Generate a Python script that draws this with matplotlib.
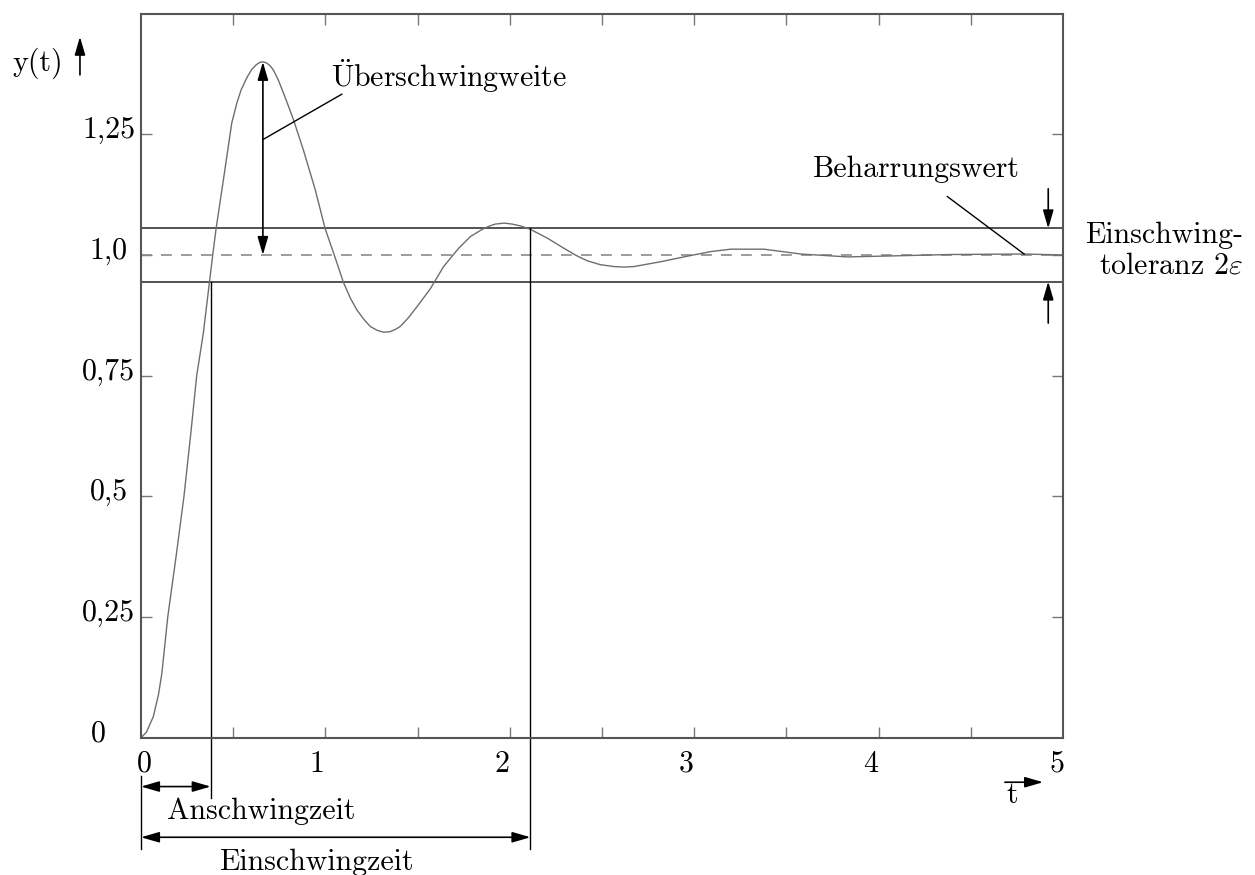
import numpy as np
import matplotlib
matplotlib.use('Agg')
import matplotlib.pyplot as plt

plt.rcParams['font.family'] = ['cmr10', 'DejaVu Serif']
plt.rcParams['mathtext.fontset'] = 'cm'
plt.rcParams['axes.formatter.use_mathtext'] = True

# digitised step response y(t)
t = [0, 0.03, 0.067, 0.095, 0.113, 0.145, 0.19, 0.233, 0.27, 0.302, 0.338,
     0.371, 0.389, 0.407, 0.425, 0.452, 0.492, 0.52, 0.543, 0.575, 0.60,
     0.625, 0.645, 0.661, 0.68, 0.70, 0.718, 0.745, 0.773, 0.80, 0.827,
     0.881, 0.945, 0.999, 1.048, 1.098, 1.135, 1.171, 1.21, 1.243, 1.28,
     1.315, 1.35, 1.38, 1.406, 1.45, 1.497, 1.569, 1.641, 1.723, 1.786,
     1.850, 1.89, 1.922, 1.97, 2.012, 2.06, 2.112, 2.203, 2.293, 2.36,
     2.420, 2.49, 2.564, 2.62, 2.673, 2.818, 2.944, 3.089, 3.198, 3.306,
     3.378, 3.578, 3.831, 4.066, 4.392, 4.789, 5.0]
y = [0, 0.012, 0.044, 0.09, 0.133, 0.25, 0.375, 0.5, 0.63, 0.75, 0.838,
     0.943, 1.0, 1.054, 1.10, 1.169, 1.273, 1.315, 1.342, 1.368, 1.384,
     1.394, 1.399, 1.400, 1.398, 1.392, 1.383, 1.362, 1.335, 1.308, 1.280,
     1.217, 1.135, 1.054, 1.0, 0.943, 0.911, 0.886, 0.866, 0.852, 0.844,
     0.840, 0.841, 0.846, 0.852, 0.870, 0.893, 0.930, 0.976, 1.014, 1.038,
     1.053, 1.060, 1.064, 1.066, 1.064, 1.060, 1.053, 1.035, 1.014, 0.999,
     0.988, 0.980, 0.976, 0.975, 0.976, 0.986, 0.996, 1.007, 1.012, 1.012,
     1.012, 1.002, 0.996, 0.998, 1.001, 1.002, 1.0]

final_value = 1.0
tol = 0.055            # epsilon
t_peak, y_peak = 0.661, 1.400
t_rise = 0.378         # Anschwingzeit
t_settle = 2.112       # Einschwingzeit

xtick_pos = [0.02, 0.955, 1.955, 2.955, 3.955, 4.97]
xtick_lab = ['0', '1', '2', '3', '4', '5']
ytick_val = [0, 0.25, 0.5, 0.75, 1.0, 1.25]
ytick_lab = ['0', '0,25', '0,5', '0,75', '1,0', '1,25']

FS = 21.5
spine_col = '#555555'

fig = plt.figure(figsize=(12.55, 8.75), dpi=100)
ax = fig.add_axes([0.11235, 0.1568, 0.73466, 0.8277])
ax.set_xlim(0, 5)
ax.set_ylim(0, 1.5)

for s in ax.spines.values():
    s.set_color(spine_col)
    s.set_linewidth(1.5)

# ticks: marks at 0.5 steps (minor), labels slightly shifted (major, no mark)
ax.set_xticks(xtick_pos)
ax.set_xticklabels(xtick_lab)
ax.set_xticks(np.arange(0.5, 5.0, 0.5), minor=True)
ax.set_yticks(ytick_val[1:])
ax.set_yticklabels([])
ax.tick_params(axis='x', which='major', length=0, pad=9, labelsize=FS)
ax.tick_params(axis='x', which='minor', direction='in', length=8, width=1,
               color='#777777', top=True, bottom=True)
ax.tick_params(axis='y', which='major', direction='in', length=8, width=1,
               color='#777777', left=True, right=True)

for v, lab in zip(ytick_val, ytick_lab):
    xx = -0.233 if lab == '0' else -0.174
    ax.text(xx, v + 0.008, lab, ha='center', va='center', fontsize=FS,
            clip_on=False)

# tolerance band and final value
ax.axhline(final_value + tol, color='#444444', lw=1.3)
ax.axhline(final_value - tol, color='#444444', lw=1.3)
ax.axhline(final_value, color='#8a8a8a', lw=1.2, dashes=(6.5, 5.5))

# response curve
ax.plot(t, y, color='#6e6e6e', lw=1.0)

# vertical marker lines
ax.plot([t_rise, t_rise], [-0.125, final_value - tol], color='k', lw=1.0,
        clip_on=False)
ax.plot([t_settle, t_settle], [-0.23, final_value + tol], color='k', lw=1.0,
        clip_on=False)
ax.plot([0, 0], [-0.08, -0.23], color='k', lw=1.0, clip_on=False)

arr2 = dict(arrowstyle='<|-|>,head_length=0.55,head_width=0.16',
            mutation_scale=20, color='k', lw=1.2, shrinkA=0, shrinkB=0)
arr1 = dict(arrowstyle='-|>,head_length=0.55,head_width=0.16',
            mutation_scale=20, color='k', lw=1.2, shrinkA=0, shrinkB=0)

ax.annotate('', xy=(0, -0.101), xytext=(t_rise, -0.101), arrowprops=arr2,
            annotation_clip=False)
ax.text(0.651, -0.153, 'Anschwingzeit', ha='center', va='center',
        fontsize=FS, clip_on=False)
ax.annotate('', xy=(0, -0.206), xytext=(t_settle, -0.206), arrowprops=arr2,
            annotation_clip=False)
ax.text(0.949, -0.257, 'Einschwingzeit', ha='center', va='center',
        fontsize=FS, clip_on=False)

# overshoot
ax.annotate('', xy=(t_peak, y_peak), xytext=(t_peak, final_value),
            arrowprops=arr2)
ax.plot([t_peak, 1.089], [1.239, 1.333], color='k', lw=1.0)
ax.text(1.031, 1.348, r'$\ddot{\mathrm{U}}$berschwingweite', ha='left',
        va='baseline', fontsize=FS)

# final value label
ax.plot([4.373, 4.789], [1.121, 1.002], color='k', lw=1.0)
ax.text(4.207, 1.162, 'Beharrungswert', ha='center', va='baseline',
        fontsize=FS)

# tolerance arrows
ax.annotate('', xy=(4.92, final_value + tol), xytext=(4.92, 1.137),
            arrowprops=arr1)
ax.annotate('', xy=(4.92, final_value - tol), xytext=(4.92, 0.859),
            arrowprops=arr1)
ax.text(5.976, 1.041, 'Einschwing-', ha='right', va='center', fontsize=FS,
        clip_on=False)
ax.text(5.976, 0.977, r'toleranz $2\varepsilon$', ha='right', va='center',
        fontsize=FS, clip_on=False)

# axis names with arrows
ax.text(-0.559, 1.398, 'y(t)', ha='center', va='center', fontsize=FS,
        clip_on=False)
ax.annotate('', xy=(-0.331, 1.452), xytext=(-0.331, 1.373), arrowprops=arr1,
            annotation_clip=False)
ax.annotate('', xy=(4.892, -0.092), xytext=(4.685, -0.092), arrowprops=arr1,
            annotation_clip=False)
ax.text(4.723, -0.12, 't', ha='center', va='center', fontsize=FS,
        clip_on=False)

fig.savefig('out.png', dpi=100)
